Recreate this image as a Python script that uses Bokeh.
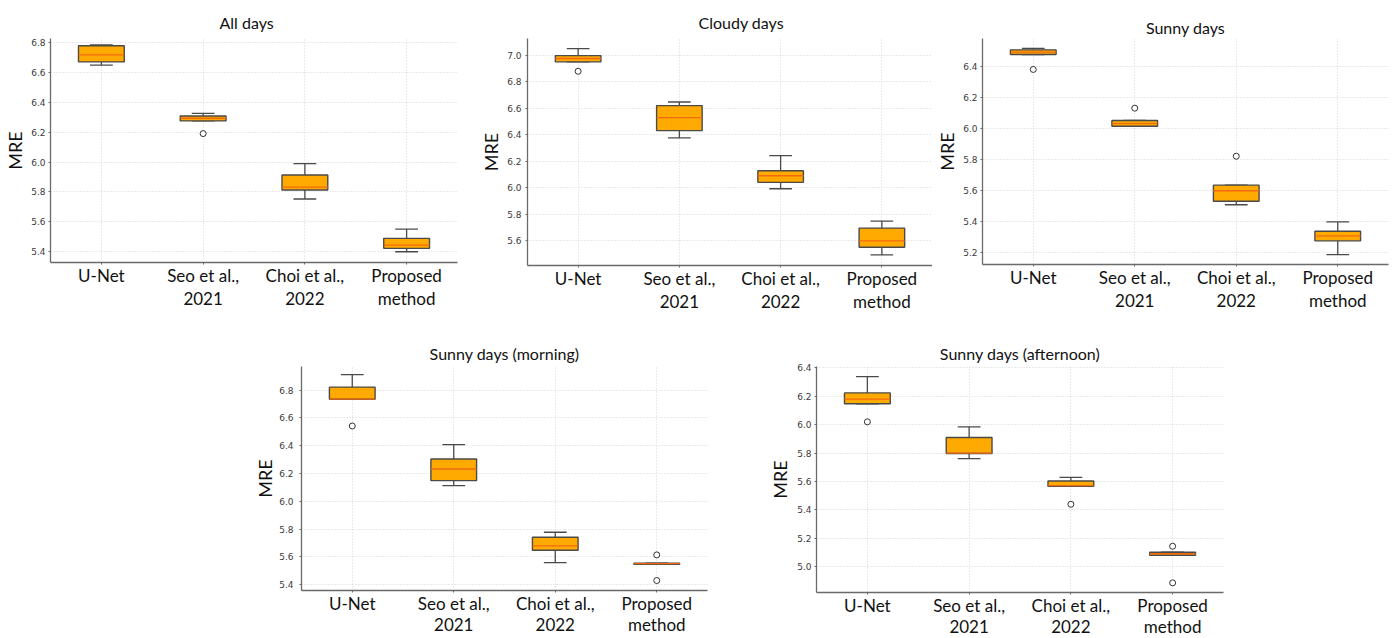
from bokeh.plotting import figure
from bokeh.models import (FactorRange, Range1d, SingleIntervalTicker, PrintfTickFormatter,
                          ColumnDataSource, Spacer)
from bokeh.layouts import row, column
from bokeh.embed import file_html
from bokeh.resources import INLINE

METHODS = ["U-Net", "Seo et al.,\n2021", "Choi et al.,\n2022", "Proposed\nmethod"]

# ---- All days ----
ALL_LOW = [6.650, 6.276, 5.752, 5.398]
ALL_Q1 = [6.672, 6.276, 5.812, 5.421]
ALL_MED = [6.719, 6.294, 5.832, 5.443]
ALL_Q3 = [6.780, 6.309, 5.913, 5.488]
ALL_HIGH = [6.786, 6.327, 5.989, 5.550]
ALL_OUT_IDX = [1]
ALL_OUT_VAL = [6.191]

# ---- Cloudy days ----
CLOUDY_LOW = [6.950, 6.376, 5.993, 5.494]
CLOUDY_Q1 = [6.950, 6.431, 6.041, 5.552]
CLOUDY_MED = [6.975, 6.529, 6.091, 5.600]
CLOUDY_Q3 = [6.997, 6.620, 6.129, 5.696]
CLOUDY_HIGH = [7.050, 6.647, 6.242, 5.749]
CLOUDY_OUT_IDX = [0]
CLOUDY_OUT_VAL = [6.879]

# ---- Sunny days ----
SUNNY_LOW = [6.475, 6.014, 5.509, 5.189]
SUNNY_Q1 = [6.475, 6.014, 5.532, 5.277]
SUNNY_MED = [6.490, 6.031, 5.599, 5.309]
SUNNY_Q3 = [6.505, 6.051, 5.635, 5.339]
SUNNY_HIGH = [6.514, 6.051, 5.635, 5.399]
SUNNY_OUT_IDX = [0, 1, 2]
SUNNY_OUT_VAL = [6.379, 6.130, 5.821]

# ---- Sunny days (morning) ----
MORNING_LOW = [6.735, 6.113, 5.560, 5.548]
MORNING_Q1 = [6.735, 6.149, 5.649, 5.548]
MORNING_MED = [6.735, 6.233, 5.680, 5.552]
MORNING_Q3 = [6.822, 6.305, 5.742, 5.556]
MORNING_HIGH = [6.912, 6.408, 5.778, 5.556]
MORNING_OUT_IDX = [0, 3, 3]
MORNING_OUT_VAL = [6.542, 5.615, 5.431]

# ---- Sunny days (afternoon) ----
AFTERNOON_LOW = [6.147, 5.760, 5.565, 5.080]
AFTERNOON_Q1 = [6.147, 5.797, 5.565, 5.080]
AFTERNOON_MED = [6.180, 5.800, 5.570, 5.090]
AFTERNOON_Q3 = [6.224, 5.910, 5.603, 5.101]
AFTERNOON_HIGH = [6.339, 5.985, 5.629, 5.101]
AFTERNOON_OUT_IDX = [0, 2, 3, 3]
AFTERNOON_OUT_VAL = [6.020, 5.439, 5.143, 4.885]

BOX_FILL = "#FFAA00"
BOX_LINE = "#4a4a4a"
MED_COLOR = "#F26A10"
AXIS_COLOR = "#6a6a6a"
GRID_COLOR = "#d4d4d4"
LABEL_FONT = "Lato"


def make_panel(title, low, q1, med, q3, high, out_idx, out_val, yr,
               fw, fh, bl, br, bt, bb, tick_standoff, label_standoff,
               title_standoff, title_align, title_offset, xlab_lh):
    p = figure(x_range=FactorRange(*METHODS, range_padding=0),
               y_range=Range1d(*yr), frame_width=fw, frame_height=fh,
               output_backend="svg", toolbar_location=None,
               min_border_left=bl, min_border_right=br, min_border_top=bt, min_border_bottom=bb,
               background_fill_color="white", border_fill_color="white")
    p.outline_line_color = None

    p.title.text = title
    p.title.align = title_align
    p.title.offset = title_offset
    p.title.standoff = title_standoff
    p.title.text_font = LABEL_FONT
    p.title.text_font_size = "16px"
    p.title.text_font_style = "normal"
    p.title.text_color = "#111111"

    src = ColumnDataSource(dict(
        x=METHODS, low=low, q1=q1, med=med, q3=q3, high=high,
        xl=[(m, -0.112) for m in METHODS], xr=[(m, 0.112) for m in METHODS],
        bl=[(m, -0.225) for m in METHODS], br=[(m, 0.225) for m in METHODS],
    ))
    # whiskers and caps
    p.segment(x0="x", y0="q3", x1="x", y1="high", source=src, line_color=BOX_LINE, line_width=1.3)
    p.segment(x0="x", y0="low", x1="x", y1="q1", source=src, line_color=BOX_LINE, line_width=1.3)
    p.segment(x0="xl", y0="high", x1="xr", y1="high", source=src, line_color=BOX_LINE, line_width=1.3)
    p.segment(x0="xl", y0="low", x1="xr", y1="low", source=src, line_color=BOX_LINE, line_width=1.3)
    # boxes
    p.vbar(x="x", bottom="q1", top="q3", width=0.45, source=src,
           fill_color=BOX_FILL, line_color=BOX_LINE, line_width=1.4)
    # medians
    p.segment(x0="bl", y0="med", x1="br", y1="med", source=src, line_color=MED_COLOR, line_width=1.3)
    # outliers
    osrc = ColumnDataSource(dict(x=[METHODS[i] for i in out_idx], y=out_val))
    p.scatter(x="x", y="y", source=osrc, marker="circle", size=6,
              fill_color="white", line_color="#333333", line_width=1)

    p.yaxis.ticker = SingleIntervalTicker(interval=0.2)
    p.yaxis.formatter = PrintfTickFormatter(format="%.1f")
    p.yaxis.axis_label = "MRE"
    p.yaxis.axis_label_text_font = LABEL_FONT
    p.yaxis.axis_label_text_font_size = "18px"
    p.yaxis.axis_label_text_font_style = "normal"
    p.yaxis.axis_label_text_color = "#111111"
    p.yaxis.axis_label_standoff = label_standoff
    p.yaxis.major_label_text_font = "DejaVu Sans"
    p.yaxis.major_label_text_font_size = "9px"
    p.yaxis.major_label_text_color = "#3a3a3a"
    p.yaxis.major_label_standoff = tick_standoff
    p.yaxis.minor_tick_line_color = None

    p.xaxis.major_label_text_font = LABEL_FONT
    p.xaxis.major_label_text_font_size = "17px"
    p.xaxis.major_label_text_color = "#111111"
    p.xaxis.major_label_standoff = 0
    p.xaxis.major_label_text_line_height = xlab_lh

    for ax in (p.xaxis, p.yaxis):
        ax.axis_line_color = AXIS_COLOR
        ax.axis_line_width = 1.3
        ax.major_tick_line_color = AXIS_COLOR
        ax.major_tick_out = 2
        ax.major_tick_in = 0

    p.xgrid.grid_line_color = GRID_COLOR
    p.xgrid.grid_line_dash = "1 2"
    p.ygrid.grid_line_color = GRID_COLOR
    p.ygrid.grid_line_dash = "1 2"
    return p


f1 = make_panel("All days", ALL_LOW, ALL_Q1, ALL_MED, ALL_Q3, ALL_HIGH, ALL_OUT_IDX, ALL_OUT_VAL,
                (5.326, 6.829), 407, 224, 50, 18, 38, 56, 1, 2, 14, "left", 169, 1.12)
f2 = make_panel("Cloudy days", CLOUDY_LOW, CLOUDY_Q1, CLOUDY_MED, CLOUDY_Q3, CLOUDY_HIGH,
                CLOUDY_OUT_IDX, CLOUDY_OUT_VAL,
                (5.414, 7.126), 405, 227, 52, 0, 38, 53, 2, 2, 14, "left", 171, 1.12)
f3 = make_panel("Sunny days", SUNNY_LOW, SUNNY_Q1, SUNNY_MED, SUNNY_Q3, SUNNY_HIGH,
                SUNNY_OUT_IDX, SUNNY_OUT_VAL,
                (5.125, 6.578), 406, 226, 50, 10, 38, 54, 1, 2, 4, "center", 0, 1.12)
f4 = make_panel("Sunny days (morning)", MORNING_LOW, MORNING_Q1, MORNING_MED, MORNING_Q3, MORNING_HIGH,
                MORNING_OUT_IDX, MORNING_OUT_VAL,
                (5.359, 6.970), 406, 224, 52, 57, 48, 48, 4, 0, 8, "center", 0, 1.0)
f5 = make_panel("Sunny days (afternoon)", AFTERNOON_LOW, AFTERNOON_Q1, AFTERNOON_MED, AFTERNOON_Q3,
                AFTERNOON_HIGH, AFTERNOON_OUT_IDX, AFTERNOON_OUT_VAL,
                (4.817, 6.410), 407, 226, 52, 10, 48, 46, 1, 3, 8, "center", 0, 1.0)

layout = column(row(f1, f2, f3), row(Spacer(width=249, height=320), f4, f5))

open("out.html", "w").write(file_html(layout, INLINE))
